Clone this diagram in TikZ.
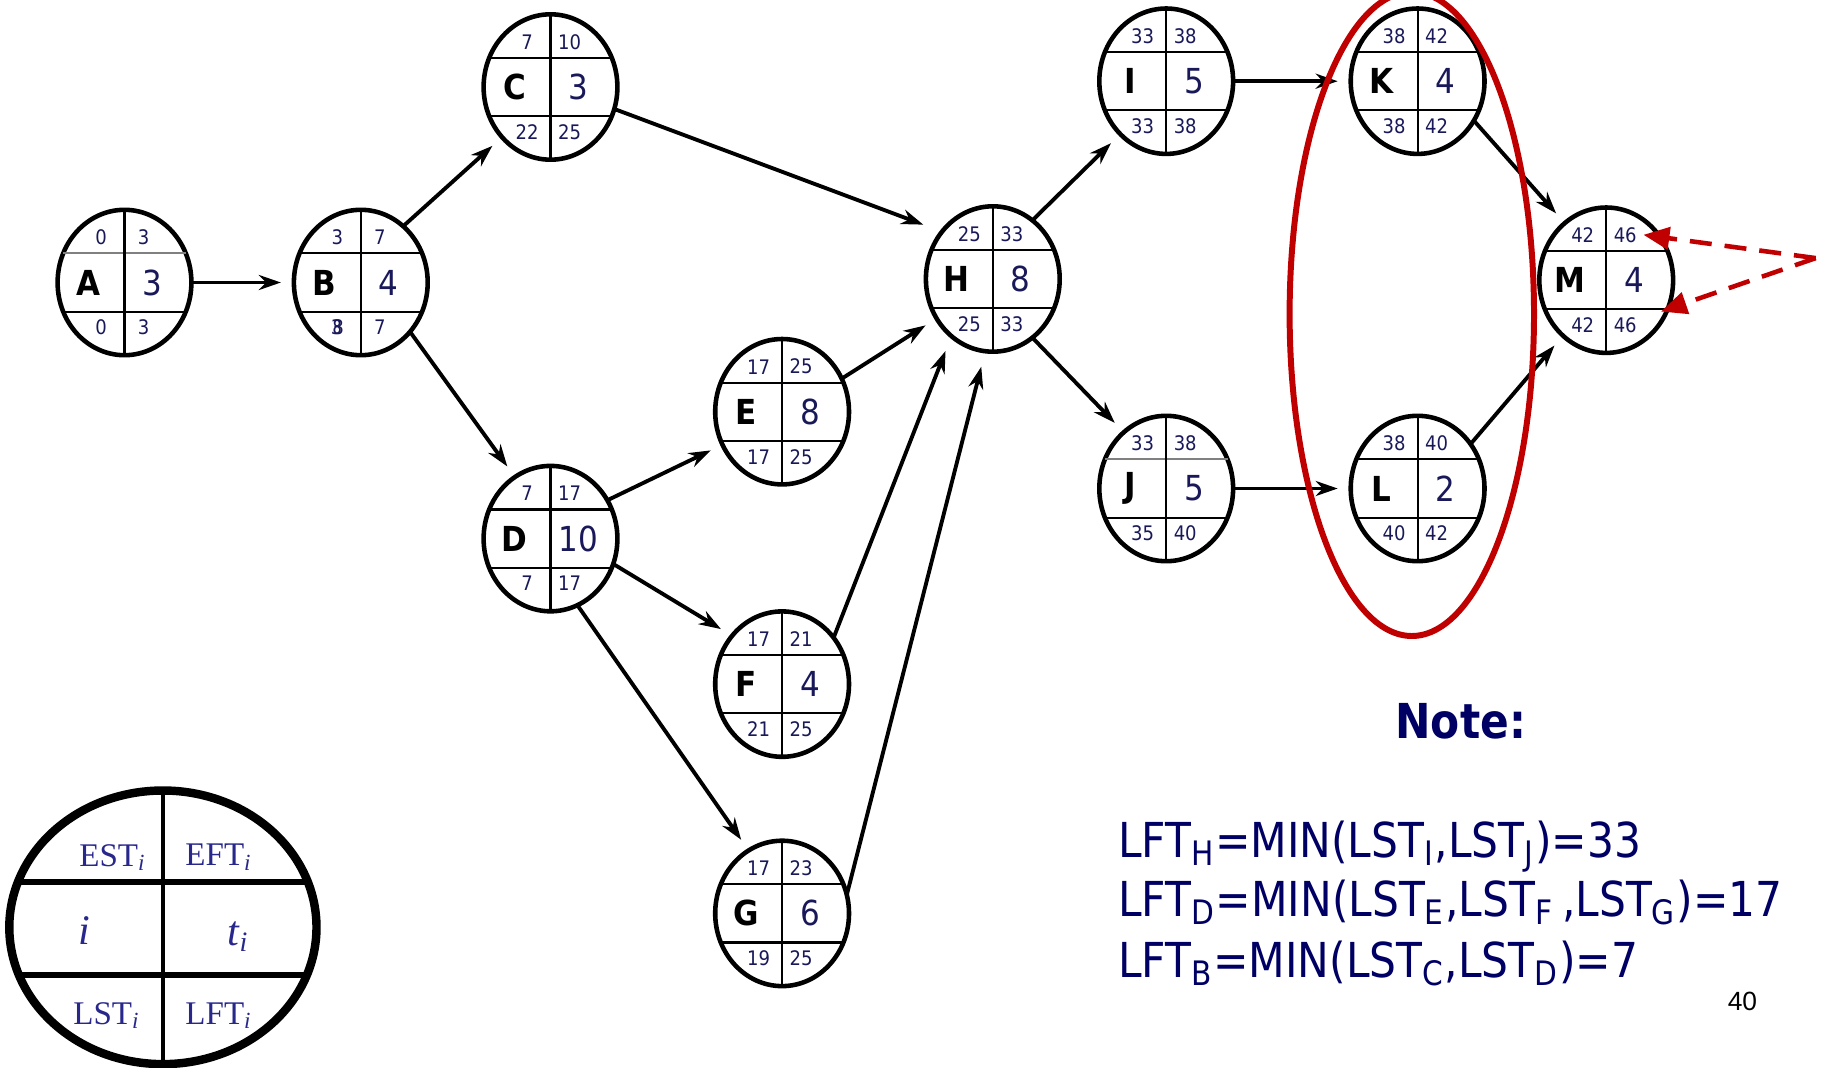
\documentclass[tikz,border=0pt]{standalone}
\usepackage{fontspec}
\usetikzlibrary{arrows.meta, positioning, shapes.geometric}
\newfontfamily\nodefont[FakeStretch=0.9]{DejaVu Sans}
\newfontfamily\notefont[FakeStretch=0.88]{DejaVu Sans}
\newfontfamily\keyfont{Liberation Serif}
\newfontfamily\pagefont{Liberation Sans}
\definecolor{numblue}{RGB}{25,25,90}
\definecolor{noteblue}{RGB}{0,0,100}
\definecolor{keyblue}{RGB}{40,40,140}
\definecolor{critred}{RGB}{192,0,0}

% activity: [top line colour]{name}{position}{letter}{duration}{EST}{EFT}{LST}{LFT}
\newcommand{\activity}[9][black]{%
  \node[act] (#2) at (#3) {};
  \draw[divider, draw=#1] ([shift={(-0.613,0.291)}]#2.center) -- ([shift={(0.613,0.291)}]#2.center);
  \draw[divider] ([shift={(-0.613,-0.291)}]#2.center) -- ([shift={(0.613,-0.291)}]#2.center);
  \draw[divider] (#2.north) -- (#2.south);
  \node[tag] (#2-id) at ([xshift=-0.36cm]#2.center) {#4};
  \node[dur] (#2-t) at ([xshift=0.28cm]#2.center) {#5};
  \node[num] (#2-es) at ([shift={(-0.235,0.45)}]#2.center) {#6};
  \node[num] (#2-ef) at ([shift={(0.19,0.45)}]#2.center) {#7};
  \node[num] (#2-ls) at ([shift={(-0.235,-0.45)}]#2.center) {#8};
  \node[num] (#2-lf) at ([shift={(0.19,-0.45)}]#2.center) {#9};
}

\begin{document}
\begin{tikzpicture}[>=Stealth,
		act/.style={ellipse, draw=black, line width=1.3pt, minimum width=1.338cm, minimum height=1.454cm, inner sep=0pt, outer sep=0pt},
		divider/.style={line width=0.6pt},
		tag/.style={font=\nodefont\fontsize{9.8}{10}\selectfont\bfseries, text=black, inner sep=0pt},
		dur/.style={font=\nodefont\fontsize{9.8}{10}\selectfont, text=numblue, inner sep=0pt},
		num/.style={font=\nodefont\fontsize{5.7}{6}\selectfont, text=numblue, inner sep=0pt},
		link/.style={-{Stealth[length=0.22cm, width=0.15cm]}, line width=1.1pt, shorten >=0.13cm},
		redlink/.style={-{Triangle[length=0.26cm, width=0.22cm]}, critred, line width=1.3pt, dash pattern=on 0.22cm off 0.13cm},
		keyshape/.style={ellipse, draw=black, line width=2.4pt, minimum width=3.072cm, minimum height=2.736cm, inner sep=0pt, outer sep=0pt},
		keytext/.style={font=\keyfont\fontsize{9.4}{10}\selectfont, text=keyblue, inner sep=0pt},
		notetext/.style={font=\notefont\fontsize{13.7}{16}\selectfont, text=noteblue, inner sep=0pt, anchor=base west}]
		
		\useasboundingbox (0,0) rectangle (18.25,10.67);
		
		% Activities
		\activity[gray]{A}{1.245,7.845}{A}{3}{0}{3}{0}{3}
		\activity{B}{3.608,7.845}{B}{4}{3}{7}{\rlap{3}\kern0.4pt 8}{7}
		\activity{C}{5.505,9.800}{C}{3}{7}{10}{22}{25}
		\activity{D}{5.505,5.284}{D}{10}{7}{17}{7}{17}
		\activity{E}{7.821,6.553}{E}{8}{17}{25}{17}{25}
		\activity{F}{7.821,3.829}{F}{4}{17}{21}{21}{25}
		\activity{G}{7.821,1.536}{G}{6}{17}{23}{19}{25}
		\activity{H}{9.928,7.880}{H}{8}{25}{33}{25}{33}
		\activity{I}{11.662,9.858}{I}{5}{33}{38}{33}{38}
		\activity[gray]{J}{11.662,5.785}{J}{5}{33}{38}{35}{40}
		\activity{K}{14.176,9.858}{K}{4}{38}{42}{38}{42}
		\activity{L}{14.176,5.785}{L}{2}{38}{40}{40}{42}
		\activity{M}{16.062,7.868}{M}{4}{42}{46}{42}{46}
		
		% Precedences
		\draw[link] (A.east) -- (B.west);
		\draw[link] (B.53) -- (C.226);
		\draw[link] (B.315) -- (D.120);
		\draw[link, shorten >=0.2cm] (C.341) -- (H.137);
		\draw[link] (D.34) -- (E.209);
		\draw[link] (D.338) -- (F.136);
		\draw[link] (D.292) -- (G.118);
		\draw[link] (E.29) -- (H.215);
		\draw[link, shorten >=0.16cm] (F.42) -- (H.234);
		\draw[link, shorten >=0.16cm] (G.16) -- (H.264);
		\draw[link] (H.56) -- (I.229);
		\draw[link] (H.304) -- (J.127);
		\draw[link] (I.east) -- (K.west);
		\draw[link] (J.east) -- (L.west);
		\draw[link] (K.325) -- (M.126);
		\draw[link] (L.40) -- (M.232);
		
		% Critical pair K, L
		\draw[critred, line width=1.7pt] (14.118,7.530) ellipse [x radius=1.222, y radius=3.22];
		
		% Pointer to M
		\coordinate (flag) at (18.157,8.089);
		\draw[redlink] (flag) -- ([shift={(0.372,0.454)}]M.center);
		\draw[redlink] (flag) -- ([shift={(0.547,-0.314)}]M.center);
		
		% Legend
		\node[keyshape] (key) at (1.629,1.397) {};
		\draw[line width=1.5pt] ([shift={(-1.449,0.454)}]key.center) -- ([shift={(1.449,0.454)}]key.center);
		\draw[line width=1.5pt] ([shift={(-1.440,-0.477)}]key.center) -- ([shift={(1.440,-0.477)}]key.center);
		\draw[line width=1.1pt] (key.north) -- (key.south);
		\node[keytext] (key-es) at ([shift={(-0.50,0.70)}]key.center) {EST\textsubscript{\textit{i}}};
		\node[keytext] (key-ef) at ([shift={(0.56,0.70)}]key.center) {EFT\textsubscript{\textit{i}}};
		\node[keytext, font=\keyfont\fontsize{12}{14}\selectfont\itshape] (key-id) at ([shift={(-0.79,-0.035)}]key.center) {i};
		\node[keytext, font=\keyfont\fontsize{12}{14}\selectfont\itshape] (key-t) at ([shift={(0.757,-0.093)}]key.center) {t\textsubscript{i}};
		\node[keytext] (key-ls) at ([shift={(-0.56,-0.885)}]key.center) {LST\textsubscript{\textit{i}}};
		\node[keytext] (key-lf) at ([shift={(0.56,-0.885)}]key.center) {LFT\textsubscript{\textit{i}}};
		
		% Note
		\node[font=\notefont\fontsize{13.7}{16}\selectfont\bfseries, text=noteblue, inner sep=0pt, anchor=base] (note) at (14.607,3.282) {Note:};
		\node[notetext] (lfth) at (11.173,2.095) {LFT\textsubscript{H}=MIN(LST\textsubscript{I},LST\textsubscript{J})=33};
		\node[notetext] (lftd) at (11.173,1.501) {LFT\textsubscript{D}=MIN(LST\textsubscript{E},LST\textsubscript{F}\,,LST\textsubscript{G})=17};
		\node[notetext] (lftb) at (11.173,0.896) {LFT\textsubscript{B}=MIN(LST\textsubscript{C},LST\textsubscript{D})=7};
		\node[font=\pagefont\fontsize{7.5}{9}\selectfont, inner sep=0pt, anchor=base] (page) at (17.424,0.570) {40};
	\end{tikzpicture}
\end{document}
